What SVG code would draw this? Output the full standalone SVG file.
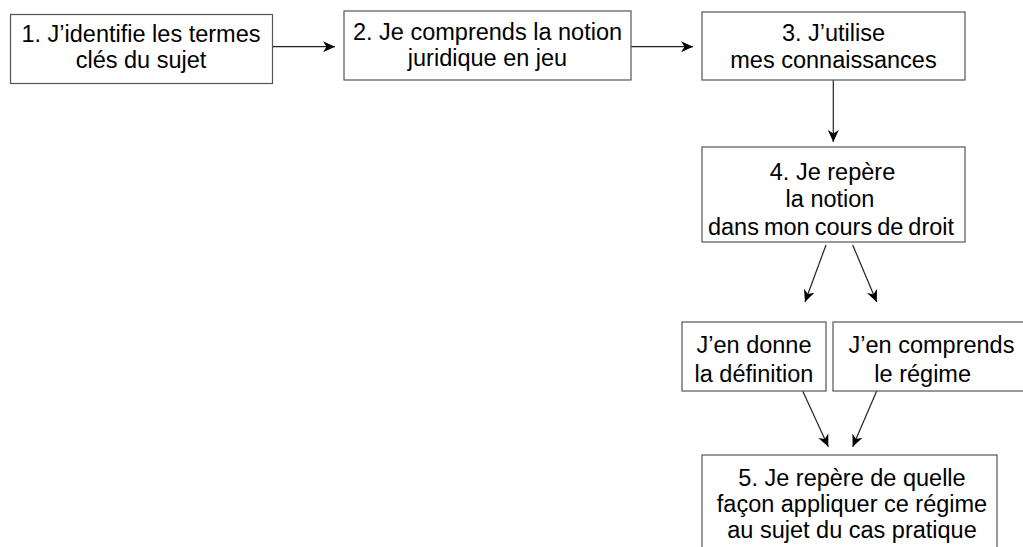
<svg xmlns="http://www.w3.org/2000/svg" width="1023" height="547" viewBox="0 0 1023 547">
<style>
.box{fill:#fff;stroke:#555;stroke-width:1.2}
.t{font-family:"Liberation Sans",Arial,Helvetica,sans-serif;font-size:23.5px;fill:#000;text-anchor:middle}
.c{fill:none;stroke:#222;stroke-width:1.2}
</style>
<defs>
<marker id="ah" markerUnits="userSpaceOnUse" markerWidth="13" markerHeight="13" viewBox="0 0 13 13" refX="12" refY="6.5" orient="auto">
<path d="M0,1 L12,6.5 L0,12 L3.5,6.5 Z" fill="#000"/>
</marker>
</defs>
<rect width="1023" height="547" fill="#fff"/>
<g id="connectors">
<line class="c" x1="273" y1="46.7" x2="335" y2="46.7" marker-end="url(#ah)"/>
<line class="c" x1="631" y1="46.7" x2="693" y2="46.7" marker-end="url(#ah)"/>
<line class="c" x1="833.3" y1="80" x2="833.3" y2="142" marker-end="url(#ah)"/>
<line class="c" x1="826" y1="245" x2="805" y2="302" marker-end="url(#ah)"/>
<line class="c" x1="852.7" y1="245" x2="876.7" y2="302" marker-end="url(#ah)"/>
<line class="c" x1="802.7" y1="391" x2="828.3" y2="446.7" marker-end="url(#ah)"/>
<line class="c" x1="876.7" y1="391" x2="852.7" y2="446.7" marker-end="url(#ah)"/>
</g>
<g id="n1">
<rect class="box" x="10.5" y="14.5" width="262" height="69"/>
<text class="t" x="141" y="42">1. J’identifie les termes</text>
<text class="t" x="141" y="68">clés du sujet</text>
</g>
<g id="n2">
<rect class="box" x="344" y="11" width="287" height="69"/>
<text class="t" x="487.5" y="40">2. Je comprends la notion</text>
<text class="t" x="487.5" y="66">juridique en jeu</text>
</g>
<g id="n3">
<rect class="box" x="702" y="12" width="263" height="68"/>
<text class="t" x="833.5" y="41">3. J’utilise</text>
<text class="t" x="833.5" y="68">mes connaissances</text>
</g>
<g id="n4">
<rect class="box" x="702" y="147" width="263" height="95"/>
<text class="t" x="832.5" y="180">4. Je repère</text>
<text class="t" x="830" y="207">la notion</text>
<text class="t" x="831" y="235" word-spacing="-1.5">dans mon cours de droit</text>
</g>
<g id="n4a">
<rect class="box" x="682" y="322" width="144" height="69"/>
<text class="t" x="754" y="353">J’en donne</text>
<text class="t" x="754" y="382">la définition</text>
</g>
<g id="n4b">
<rect class="box" x="833" y="322" width="200" height="69"/>
<text class="t" x="931.5" y="353">J’en comprends</text>
<text class="t" x="922.7" y="382">le régime</text>
</g>
<g id="n5">
<rect class="box" x="702" y="455" width="295" height="110"/>
<text class="t" x="852" y="486">5. Je repère de quelle</text>
<text class="t" x="852" y="512">façon appliquer ce régime</text>
<text class="t" x="852" y="538">au sujet du cas pratique</text>
</g>
</svg>
